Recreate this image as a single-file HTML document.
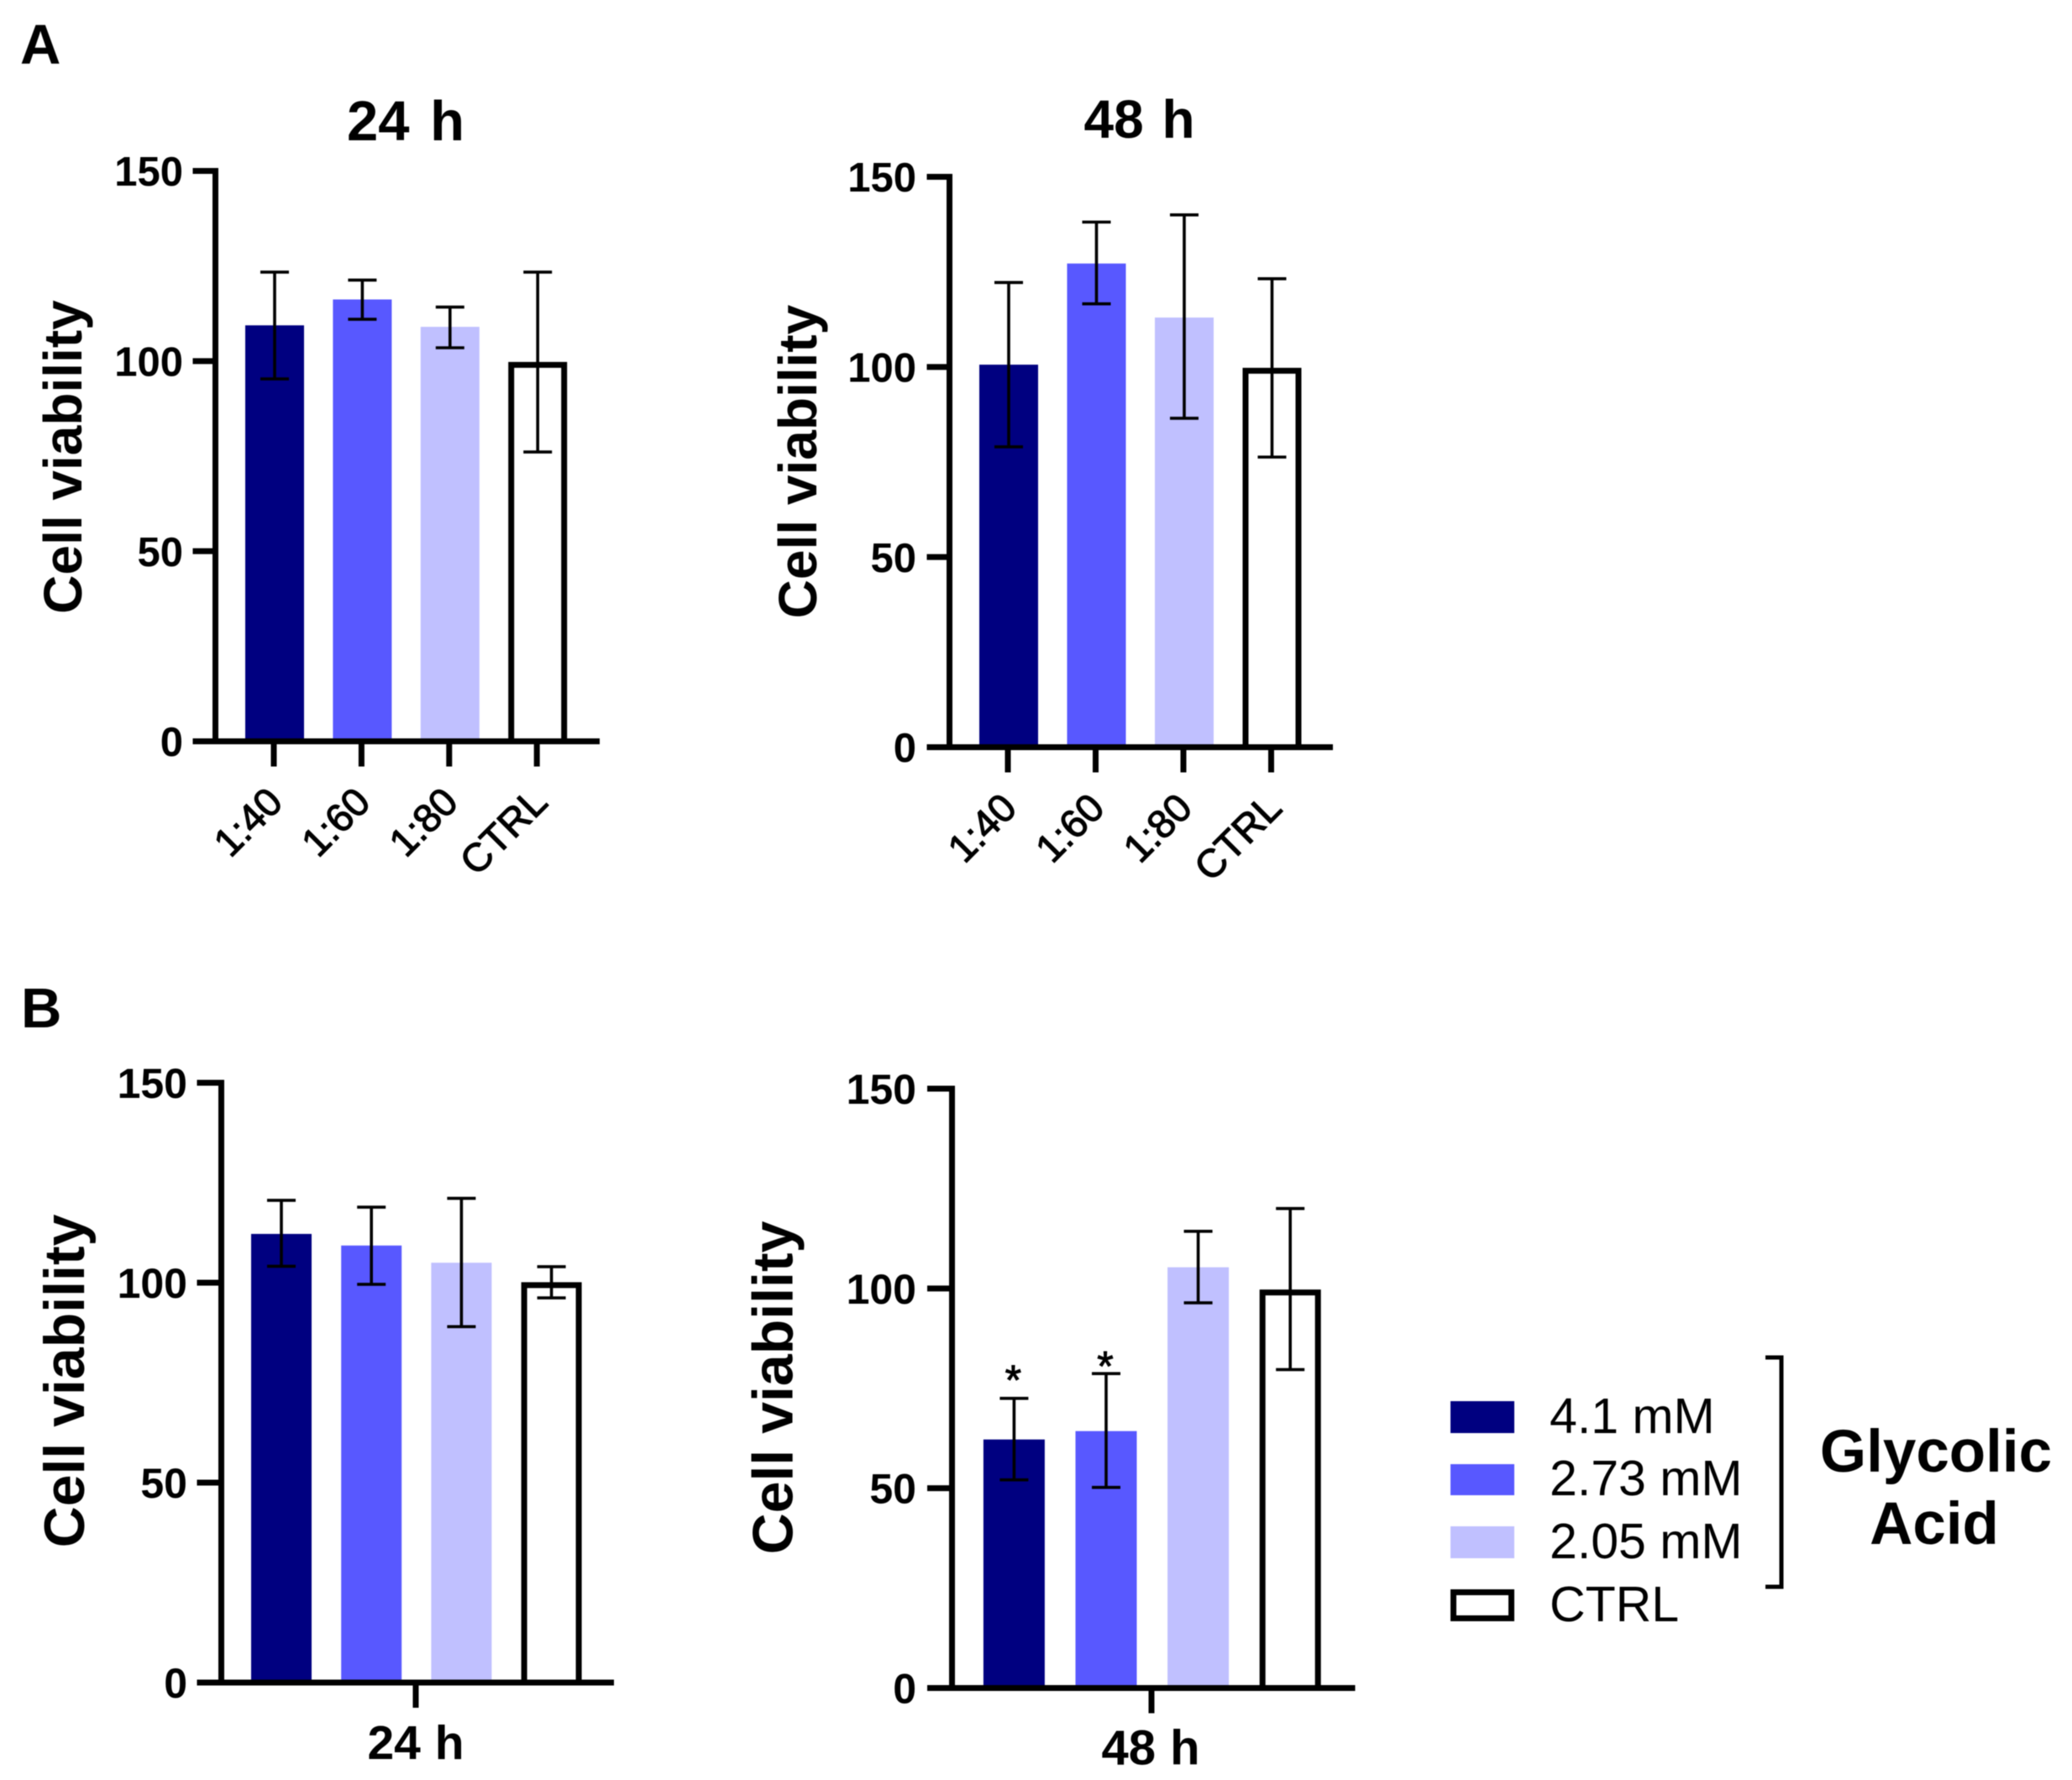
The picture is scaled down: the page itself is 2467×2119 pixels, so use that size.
<!DOCTYPE html>
<html lang="en">
<head>
<meta charset="utf-8">
<title>Cell viability with glycolic acid</title>
<style>
  html,body{margin:0;padding:0;background:#fff;}
  svg{display:block;font-family:"Liberation Sans",Arial,sans-serif;filter:blur(0.6px);}
</style>
</head>
<body>
<svg id="figure" xmlns="http://www.w3.org/2000/svg" width="2467" height="2119" viewBox="0 0 2467 2119">
  <rect x="0" y="0" width="2467" height="2119" fill="#ffffff"/>
  <text x="24" y="76" font-size="67" font-weight="700">A</text>
  <text x="25" y="1223" font-size="67" font-weight="700">B</text>

  <g>
    <rect x="1727" y="1668" width="76" height="38" fill="#000080"/>
    <rect x="1727" y="1743" width="76" height="37" fill="#5858ff"/>
    <rect x="1727" y="1817" width="76" height="38" fill="#c0c0ff"/>
    <rect x="1730.5" y="1895.5" width="69" height="31" fill="#ffffff" stroke="#000" stroke-width="7"/>
    <text x="1845" y="1706" font-size="59">4.1 mM</text>
    <text x="1845" y="1780" font-size="59">2.73 mM</text>
    <text x="1845" y="1855" font-size="59">2.05 mM</text>
    <text x="1845" y="1930" font-size="59">CTRL</text>
    <path d="M2102 1616 H2121 V1889 H2102" fill="none" stroke="#000" stroke-width="5"/>
    <text x="2305" y="1752" font-size="71" font-weight="700" text-anchor="middle">Glycolic</text>
    <text x="2303" y="1838" font-size="71" font-weight="700" text-anchor="middle">Acid</text>
  </g>
</svg>
<script>
// ---- chart data ----
const yTickLabels = [0, 50, 100, 150];
const dilutionCategories = ['1:40', '1:60', '1:80', 'CTRL'];
const concentrationKeys = ['4.1-mm', '2.73-mm', '2.05-mm', 'ctrl'];
const barColors = ['#000080', '#5858ff', '#c0c0ff', null];

const a24Means = [109.4, 116.2, 109, 99];
const a24Upper = [123.4, 121.3, 114.2, 123.4];
const a24Lower = [95.3, 111, 103.5, 76.1];

const a48Means = [100.6, 127.2, 113, 99];
const a48Upper = [122.2, 138.1, 140, 123.2];
const a48Lower = [79, 116.6, 86.5, 76.3];

const b24Means = [112.2, 109.3, 105, 99.4];
const b24Upper = [120.6, 118.9, 121.1, 104];
const b24Lower = [104.1, 99.6, 89, 96.2];

const b48Means = [62.2, 64.3, 105.3, 99];
const b48Upper = [72.5, 78.7, 114.3, 120];
const b48Lower = [52.1, 50.2, 96.4, 79.7];
const b48Stars = [79.6, 83, null, null];

// ---- helpers ----
const SVG_NS = 'http://www.w3.org/2000/svg';
const figure = document.getElementById('figure');

function mk(tag, attrs, parent) {
  const el = document.createElementNS(SVG_NS, tag);
  for (const k in attrs) el.setAttribute(k, attrs[k]);
  parent.appendChild(el);
  return el;
}

function drawPanel(p) {
  const yScale = v => p.y0 - (v / 150) * (p.y0 - p.y150);
  const xScale = i => p.firstCenter + i * p.step;

  const group = mk('g', {}, figure);
  
  

  // bars
  p.means.forEach((v, i) => {
    const cx = xScale(i);
    const top = yScale(v);
    let bar;
    if (barColors[i]) {
      bar = mk('rect', { x: cx - p.barW / 2, y: top, width: p.barW, height: p.y0 - top, fill: barColors[i] }, group);
    } else {
      bar = mk('path', {
        d: 'M' + (cx - p.barW / 2 + 3.5) + ' ' + p.y0 + ' V' + top + ' H' + (cx + p.barW / 2 - 3.5) + ' V' + p.y0,
        fill: '#ffffff', stroke: '#000', 'stroke-width': 7
      }, group);
    }
    
    
  });

  // error bars
  p.upper.forEach((u, i) => {
    const cx = xScale(i);
    const yu = yScale(u);
    const yl = yScale(p.lower[i]);
    const err = mk('path', {
      d: 'M' + (cx - 17) + ' ' + yu + ' H' + (cx + 17) +
         ' M' + cx + ' ' + yu + ' V' + yl +
         ' M' + (cx - 17) + ' ' + yl + ' H' + (cx + 17),
      fill: 'none', stroke: '#000', 'stroke-width': 3.6
    }, group);
    
    
  });

  // y axis
  const yAxis = mk('line', { x1: p.axisX, x2: p.axisX, y1: p.y150 - 3.5, y2: p.y0, stroke: '#000', 'stroke-width': 7 }, group);
  
  

  yTickLabels.forEach(t => {
    const y = yScale(t);
    const tick = mk('line', { x1: p.tickLeft, x2: p.axisX, y1: y, y2: y, stroke: '#000', 'stroke-width': 7 }, group);
    
    
    const label = mk('text', {
      x: p.labelRight, y: y + p.tickFont * 0.36, 'font-size': p.tickFont,
      'font-weight': 700, 'text-anchor': 'end'
    }, group);
    label.textContent = t;
    
    
  });

  // y axis title
  const yTitle = mk('text', {
    x: p.yTitleX, y: p.yTitleY, 'font-size': p.yTitleFont, 'font-weight': 700,
    'text-anchor': 'middle', transform: 'rotate(-90 ' + p.yTitleX + ' ' + p.yTitleY + ')'
  }, group);
  yTitle.textContent = 'Cell viability';
  
  

  // x axis
  const xAxis = mk('line', { x1: p.tickLeft, x2: p.axisEnd, y1: p.y0, y2: p.y0, stroke: '#000', 'stroke-width': 7 }, group);
  
  

  if (p.categories) {
    p.categories.forEach((c, i) => {
      const cx = xScale(i);
      const tick = mk('line', { x1: cx - 1, x2: cx - 1, y1: p.y0, y2: p.y0 + 30, stroke: '#000', 'stroke-width': 7 }, group);
      
      
      const lx = cx + (i === 3 ? 14 : 12);
      const ly = p.y0 + 75;
      const label = mk('text', {
        x: lx, y: ly, 'font-size': 47, 'text-anchor': 'end',
        stroke: '#000', 'stroke-width': 1.2,
        transform: 'rotate(-45 ' + lx + ' ' + ly + ')'
      }, group);
      label.textContent = c;
      
      
    });
  } else {
    const tick = mk('line', { x1: p.groupTickX, x2: p.groupTickX, y1: p.y0, y2: p.y0 + 30, stroke: '#000', 'stroke-width': 7 }, group);
    
    
  }

  // title / group label
  const title = mk('text', {
    x: p.titleX, y: p.titleY, 'font-size': p.titleFont, 'font-weight': 700, 'text-anchor': 'middle',
    'word-spacing': p.titleGap
  }, group);
  title.textContent = p.title;
  
  

  // significance stars
  if (p.stars) {
    p.stars.forEach((s, i) => {
      if (s === null) return;
      const star = mk('text', {
        x: xScale(i) - 1, y: yScale(s) + 29, 'font-size': 50, 'text-anchor': 'middle',
        stroke: '#000', 'stroke-width': 1
      }, group);
      star.textContent = '*';
      
      
    });
  }
}

drawPanel({
  id: 'chart-a-24h', means: a24Means, upper: a24Upper, lower: a24Lower, categories: dilutionCategories,
  axisX: 256.5, y0: 882.5, y150: 203.5, tickLeft: 229.5, axisEnd: 714, firstCenter: 327, step: 104.4, barW: 70,
  labelRight: 218, tickFont: 49, yTitleX: 97, yTitleY: 544, yTitleFont: 64,
  title: '24 h', titleX: 483, titleY: 167, titleFont: 67, titleGap: 6
});
drawPanel({
  id: 'chart-a-48h', means: a48Means, upper: a48Upper, lower: a48Lower, categories: dilutionCategories,
  axisX: 1130.5, y0: 889.5, y150: 210.5, tickLeft: 1103.5, axisEnd: 1587, firstCenter: 1201, step: 104.5, barW: 70,
  labelRight: 1091, tickFont: 49, yTitleX: 972, yTitleY: 549.5, yTitleFont: 64,
  title: '48 h', titleX: 1356.5, titleY: 164, titleFont: 64, titleGap: 4
});
drawPanel({
  id: 'chart-b-24h', means: b24Means, upper: b24Upper, lower: b24Lower,
  axisX: 263.5, y0: 2003, y150: 1289, tickLeft: 234.5, axisEnd: 731, firstCenter: 335, step: 107.2, barW: 72, groupTickX: 495,
  labelRight: 223, tickFont: 50, yTitleX: 100, yTitleY: 1644, yTitleFont: 68,
  title: '24 h', titleX: 495, titleY: 2094, titleFont: 57, titleGap: 1
});
drawPanel({
  id: 'chart-b-48h', means: b48Means, upper: b48Upper, lower: b48Lower, stars: b48Stars,
  axisX: 1133.5, y0: 2009.5, y150: 1296, tickLeft: 1104, axisEnd: 1613.5, firstCenter: 1207.4, step: 109.6, barW: 73, groupTickX: 1371,
  labelRight: 1091, tickFont: 50, yTitleX: 943.5, yTitleY: 1652, yTitleFont: 68,
  title: '48 h', titleX: 1370, titleY: 2100.5, titleFont: 58, titleGap: 1
});
</script>
</body>
</html>
